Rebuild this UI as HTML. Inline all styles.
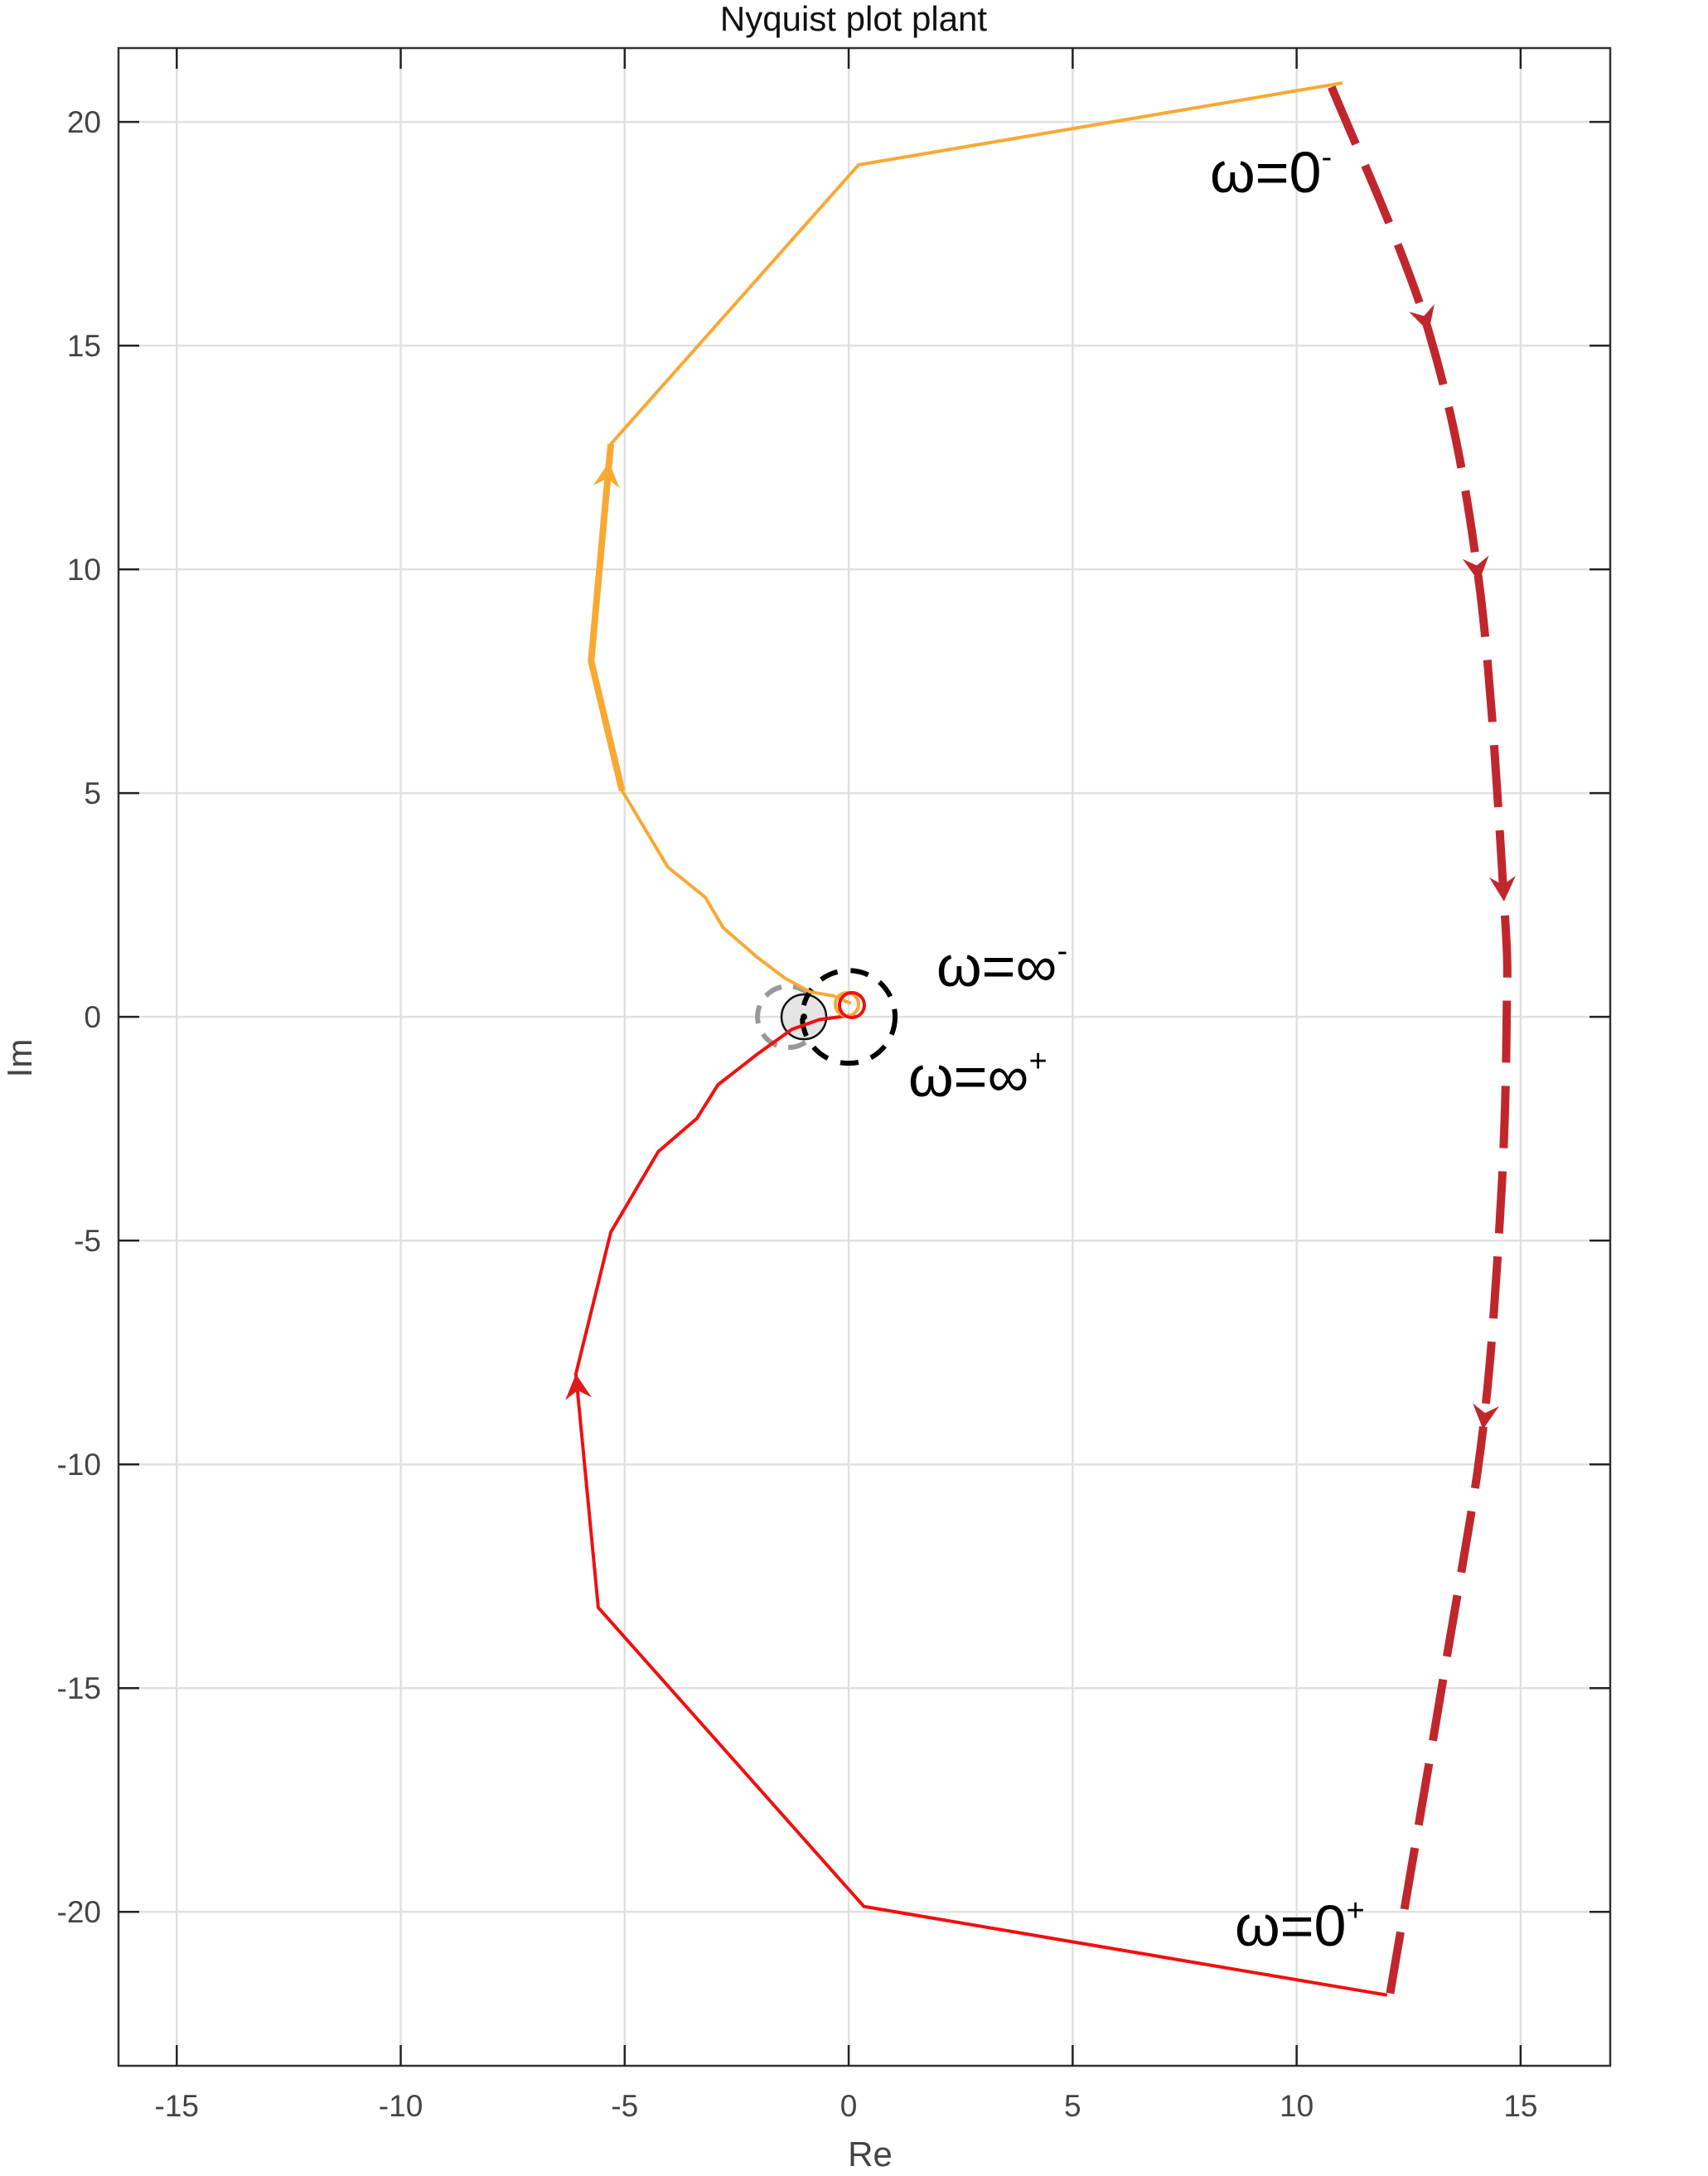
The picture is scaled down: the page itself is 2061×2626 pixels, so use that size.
<!DOCTYPE html>
<html><head><meta charset="utf-8"><style>
html,body{margin:0;padding:0;background:#fff;}
svg{display:block;font-family:"Liberation Sans",sans-serif;}
</style></head><body>
<svg id="chart" width="2061" height="2626" viewBox="0 0 2061 2626" xmlns="http://www.w3.org/2000/svg"></svg>
<script>
const xTicks=[-15,-10,-5,0,5,10,15];
const yTicks=[-20,-15,-10,-5,0,5,10,15,20];
const orangeRe=[11.02,0.22,-5.31,-5.75,-5.06,-4.04,-3.2,-2.8,-2.05,-1.43,-0.87,-0.34,0.05];
const orangeIm=[20.87,19.04,12.8,7.95,5.06,3.35,2.67,1.99,1.34,0.87,0.56,0.47,0.3];
const redRe=[12.02,0.34,-5.59,-6.09,-5.31,-4.25,-3.39,-2.92,-2.05,-1.27,-0.65,-0.2,0.15];
const redIm=[-21.86,-19.88,-13.2,-7.98,-4.81,-3.01,-2.27,-1.52,-0.84,-0.28,-0.06,0.0,0.05];
const arcRe=[10.78,12.95,14.07,14.63,14.69,14.57,14.16,13.32,12.08];
const arcIm=[20.78,15.31,9.72,2.58,0.09,-3.94,-9.22,-14.5,-21.86];
const arrowIdx=[1,2,3,6];

const X0=143,X1=1943,Y0=58,Y1=2493;
const xmin=-16.3,xmax=17.0,ymin=-23.44,ymax=21.65;
const sx=v=>X0+(v-xmin)/(xmax-xmin)*(X1-X0);
const sy=v=>Y1-(v-ymin)/(ymax-ymin)*(Y1-Y0);
const NS="http://www.w3.org/2000/svg";
const svg=document.getElementById('chart');
function mk(tag,attrs,parent){const e=document.createElementNS(NS,tag);for(const k in attrs)e.setAttribute(k,attrs[k]);(parent||svg).appendChild(e);return e;}

xTicks.forEach(t=>{
  const g=mk('line',{x1:sx(t),x2:sx(t),y1:Y0,y2:Y1,stroke:'#e0e0e0','stroke-width':2.5});
  
  
});
yTicks.forEach(t=>{
  const g=mk('line',{x1:X0,x2:X1,y1:sy(t),y2:sy(t),stroke:'#e0e0e0','stroke-width':2.5});
  
  
});
const fr=mk('rect',{x:X0,y:Y0,width:X1-X0,height:Y1-Y0,fill:'none',stroke:'#333','stroke-width':2.5});


xTicks.forEach(t=>{
  mk('line',{x1:sx(t),x2:sx(t),y1:Y1,y2:Y1-25,stroke:'#222','stroke-width':2.5});
  mk('line',{x1:sx(t),x2:sx(t),y1:Y0,y2:Y0+25,stroke:'#222','stroke-width':2.5});
  const l=mk('text',{x:sx(t),y:2554,'text-anchor':'middle','font-size':37,fill:'#444'});
  l.textContent=t;
  
  
});
yTicks.forEach(t=>{
  mk('line',{x1:X0,x2:X0+25,y1:sy(t),y2:sy(t),stroke:'#222','stroke-width':2.5});
  mk('line',{x1:X1,x2:X1-25,y1:sy(t),y2:sy(t),stroke:'#222','stroke-width':2.5});
  const l=mk('text',{x:122,y:sy(t)+13,'text-anchor':'end','font-size':37,fill:'#444'});
  l.textContent=t;
  
  
});
const title=mk('text',{x:1030,y:37,'text-anchor':'middle','font-size':42,fill:'#111'});
title.textContent='Nyquist plot plant';


const xl=mk('text',{x:1050,y:2614,'text-anchor':'middle','font-size':42,fill:'#444'});
xl.textContent='Re';


const yl=mk('text',{x:38,y:1277,'text-anchor':'middle','font-size':42,fill:'#444',transform:'rotate(-90 38 1277)'});
yl.textContent='Im';



function pts(re,im){return re.map((v,i)=>sx(v)+','+sy(im[i])).join(' ');}
function smooth(re,im){
  const p=re.map((v,i)=>[sx(v),sy(im[i])]);
  let d='M'+p[0][0]+','+p[0][1];
  for(let i=0;i<p.length-1;i++){
    const p0=p[Math.max(0,i-1)],p1=p[i],p2=p[i+1],p3=p[Math.min(p.length-1,i+2)];
    const c1=[p1[0]+(p2[0]-p0[0])/6,p1[1]+(p2[1]-p0[1])/6];
    const c2=[p2[0]-(p3[0]-p1[0])/6,p2[1]-(p3[1]-p1[1])/6];
    d+=' C'+c1[0]+','+c1[1]+' '+c2[0]+','+c2[1]+' '+p2[0]+','+p2[1];
  }
  return d;
}
const c1=mk('circle',{cx:sx(-1.35),cy:sy(0),r:37,fill:'none',stroke:'#999','stroke-width':6,'stroke-dasharray':'22 14'});


const c2=mk('circle',{cx:sx(-1),cy:sy(0),r:27,fill:'#e4e4e4',stroke:'#111','stroke-width':2.5});


const c3=mk('circle',{cx:sx(-1),cy:sy(0),r:4,fill:'#000'});


const c4=mk('circle',{cx:sx(0),cy:sy(0),r:56,fill:'none',stroke:'#000','stroke-width':6,'stroke-dasharray':'22 16'});



const po=mk('polyline',{points:pts(orangeRe,orangeIm),fill:'none',stroke:'#f7a934','stroke-width':4,'stroke-linejoin':'round'});


const pt=mk('polyline',{points:pts(orangeRe.slice(2,5),orangeIm.slice(2,5)),fill:'none',stroke:'#f7a934','stroke-width':8});


const pr=mk('polyline',{points:pts(redRe,redIm),fill:'none',stroke:'#f01010','stroke-width':4,'stroke-linejoin':'round'});


const oc=mk('circle',{cx:1022,cy:1212,r:14,fill:'none',stroke:'#f7a934','stroke-width':4});


const rc=mk('circle',{cx:1028,cy:1213,r:15,fill:'none',stroke:'#f01010','stroke-width':4});



function arrow(x,y,ang,col,name){
  const g=mk('polygon',{points:'0,0 -30,-16 -20,0 -30,16',fill:col,transform:`translate(${x},${y}) rotate(${ang})`});
  
  
}
arrow(sx(-5.35),sy(12.4),-84,'#f7a934','orange-arrow');
arrow(sx(-6.09),sy(-7.98),-96,'#e01a1a','red-arrow');

const arc=mk('path',{d:smooth(arcRe,arcIm),fill:'none',stroke:'#c0272d','stroke-width':10,'stroke-dasharray':'75 28'});


arrowIdx.forEach(i=>{
  const a=Math.atan2(sy(arcIm[i+1])-sy(arcIm[i-1]),sx(arcRe[i+1])-sx(arcRe[i-1]))*180/Math.PI;
  arrow(sx(arcRe[i]),sy(arcIm[i]),a,'#c0272d','arc-arrow');
});

function lab(x,y,txt,sup,name){
  const t=mk('text',{x:x,y:y,'font-size':70,fill:'#000','font-family':'"Liberation Sans","DejaVu Sans",sans-serif'});
  t.textContent=txt;
  const s=mk('tspan',{'font-size':38,dy:-30},t);
  s.textContent=sup;
  
  
}
lab(1460,232,'ω=0','-','label-omega-0-minus');
lab(1130,1190,'ω=∞','-','label-omega-inf-minus');
lab(1096,1323,'ω=∞','+','label-omega-inf-plus');
lab(1490,2348,'ω=0','+','label-omega-0-plus');
</script>
</body></html>
